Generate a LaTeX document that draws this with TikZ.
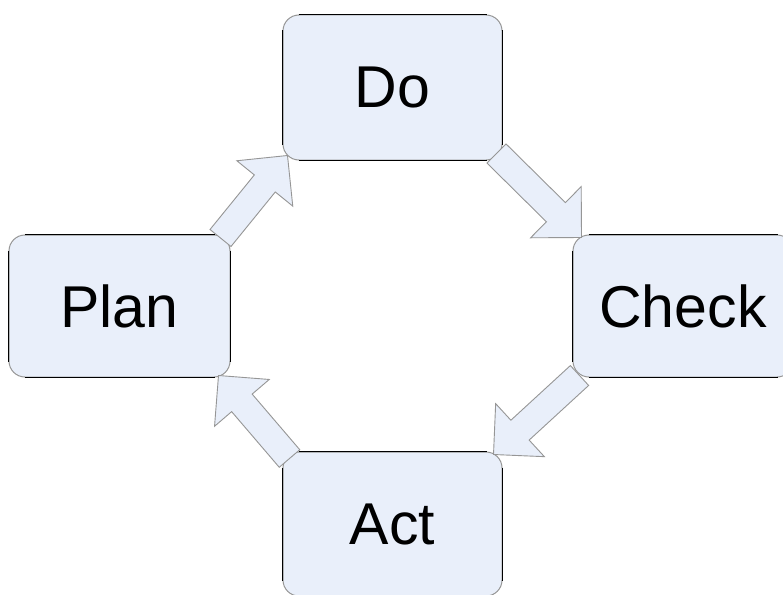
\documentclass[tikz,border=0pt]{standalone}
\usepackage{fontspec}
\setmainfont{Liberation Sans}
\usetikzlibrary{calc}
\definecolor{boxfill}{RGB}{233,239,250}
\definecolor{boxline}{RGB}{150,150,150}
\tikzset{
  pdca/.style={draw=boxline, line width=1pt, fill=boxfill, rounded corners=16pt,
    inner sep=0pt, font=\fontsize{59}{70}\selectfont},
  edgeline/.style={draw=black, line width=1.7pt},
  arrowsty/.style={draw=boxline, line width=0.9pt, fill=boxfill, line join=miter}
}
\newcommand\pdcaedges[1]{%
  \draw[edgeline] ($(#1.north west)+(16,0)$) -- ($(#1.north east)+(-16,0)$);
  \draw[edgeline] ($(#1.south west)+(16,0)$) -- ($(#1.south east)+(-16,0)$);
  \draw[edgeline] ($(#1.north west)+(0,16)$) -- ($(#1.south west)+(0,-16)$);
  \draw[edgeline] ($(#1.north east)+(0,16)$) -- ($(#1.south east)+(0,-16)$);
}
\newcommand\pdcaarrow[2]{%
  \path (#1) coordinate (tl) (#2) coordinate (hd);
  \path ($(hd)!36pt!(tl)$) coordinate (hb);
  \draw[arrowsty] ($(tl)!13.5pt!90:(hd)$) -- ($(hb)!13.5pt!90:(hd)$)
    -- ($(hb)!36pt!90:(hd)$) -- (hd) -- ($(hb)!36pt!-90:(hd)$)
    -- ($(hb)!13.5pt!-90:(hd)$) -- ($(tl)!13.5pt!-90:(hd)$) -- cycle;
}
\begin{document}
\begin{tikzpicture}[x=1pt,y=-1pt]
\path[use as bounding box, clip] (0,0) rectangle (783,594);
\fill[white] (0,0) rectangle (783,594);
\node[pdca, minimum width=219pt, minimum height=145pt] (do) at (392.5,87.5) {Do};
\node[pdca, minimum width=221pt, minimum height=142pt] (plan) at (119.5,306) {Plan};
\node[pdca, minimum width=220pt, minimum height=142pt] (check) at (683,306) {Check};
\node[pdca, minimum width=219pt, minimum height=144pt] (act) at (392.5,524) {Act};
\pdcaedges{do}
\pdcaedges{plan}
\pdcaedges{check}
\pdcaedges{act}
\coordinate (a1t) at ($(plan.north east)+(-10,3.5)$);
\coordinate (a1h) at ($(do.south west)+(5,-5)$);
\coordinate (a2t) at ($(do.south east)+(-6,-7)$);
\coordinate (a2h) at ($(check.north west)+(9,3)$);
\coordinate (a3t) at ($(check.south west)+(7,-2)$);
\coordinate (a3h) at ($(act.north east)+(-9,3)$);
\coordinate (a4t) at ($(act.north west)+(7,7)$);
\coordinate (a4h) at ($(plan.south east)+(-12,-2)$);
\pdcaarrow{a1t}{a1h}
\pdcaarrow{a2t}{a2h}
\pdcaarrow{a3t}{a3h}
\pdcaarrow{a4t}{a4h}
\end{tikzpicture}
\end{document}
